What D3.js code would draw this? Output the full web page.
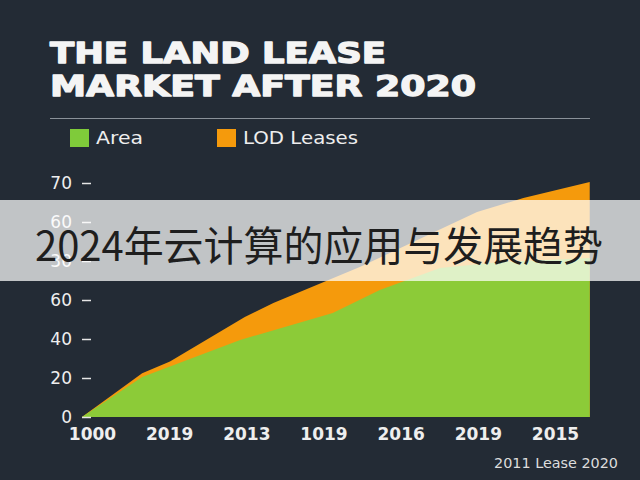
<!DOCTYPE html>
<html>
<head>
<meta charset="utf-8">
<script src="https://cdn.jsdelivr.net/npm/d3@7"></script>
<style>
  html, body { margin: 0; padding: 0; background: #232b35; }
  svg { display: block; }
</style>
</head>
<body>
<svg id="chart"></svg>
<script>
// x labels sit at index 0..6, area samples use fractional index positions
const xLabels = ['1000', '2019', '2013', '1019', '2016', '2019', '2015']
const yTickValues = [0, 20, 40, 60, 80, 100, 120]
const yTickLabels = ['0', '20', '40', '60', '30', '60', '70']

const leaseX = [-0.13, 0.65, 1.01, 1.98, 2.35, 3.47, 4.99, 5.59, 6.45]
const leaseY = [0, 22.5, 28.5, 51.3, 58.5, 76.9, 105.1, 112.3, 120.5]

const areaX = [-0.13, 0.65, 1.92, 3.12, 3.73, 4.51, 5.29, 6.45]
const areaY = [0, 20.5, 39.5, 53.3, 65.1, 76.4, 79.5, 81.5]

const width = 640
const height = 480

const svg = d3.select('#chart')
  .attr('width', width)
  .attr('height', height)

svg.append('rect')
  .attr('width', width)
  .attr('height', height)
  .attr('fill', '#232b35')

// title
const title = svg.append('g')
  .attr('font-family', 'DejaVu Sans')
  .attr('font-weight', 'bold')
  .attr('fill', '#f4f4f4')
  .attr('stroke', '#f4f4f4')
  .attr('stroke-width', 1.3)
  .attr('stroke-linejoin', 'round')
  .attr('font-size', 29)

title.append('text')
  .attr('x', 50).attr('y', 63)
  .attr('textLength', 336)
  .attr('lengthAdjust', 'spacingAndGlyphs')
  .text('THE LAND LEASE')

title.append('text')
  .attr('x', 50).attr('y', 96)
  .attr('textLength', 426)
  .attr('lengthAdjust', 'spacingAndGlyphs')
  .text('MARKET AFTER 2020')

svg.append('line')
  .attr('x1', 50).attr('x2', 590)
  .attr('y1', 118.5).attr('y2', 118.5)
  .attr('stroke', '#8a9199')
  .attr('stroke-width', 1.2)

// legend
const legend = [
  { name: 'Area', color: '#7fcb3a', x: 70, w: 47 },
  { name: 'LOD Leases', color: '#f59a0c', x: 217, w: 115 }
]

const lg = svg.selectAll('.legend')
  .data(legend)
  .join('g')
  .attr('class', 'legend')
  .attr('transform', (d) => `translate(${d.x}, 129)`)

lg.append('rect')
  .attr('width', 19)
  .attr('height', 18)
  .attr('fill', (d) => d.color)

lg.append('text')
  .attr('x', 26)
  .attr('y', 15)
  .attr('font-family', 'DejaVu Sans')
  .attr('font-size', 17)
  .attr('fill', '#eeeeee')
  .attr('textLength', (d) => d.w)
  .attr('lengthAdjust', 'spacingAndGlyphs')
  .text((d) => d.name)

// scales
const x = d3.scaleLinear().domain([0, 6]).range([92, 555])
const y = d3.scaleLinear().domain([0, 120]).range([417, 183])

const leaseData = leaseX.map((v, i) => ({ x: v, y: leaseY[i] }))
const areaData = areaX.map((v, i) => ({ x: v, y: areaY[i] }))

const area = d3.area()
  .x((d) => x(d.x))
  .y0(y(0))
  .y1((d) => y(d.y))

svg.append('path')
  .datum(leaseData)
  .attr('d', area)
  .attr('fill', '#f59a0c')

svg.append('path')
  .datum(areaData)
  .attr('d', area)
  .attr('fill', '#8ccb38')

// axes
const yAxis = svg.append('g')
  .attr('transform', 'translate(91, 0)')
  .call(d3.axisLeft(y)
    .tickValues(yTickValues)
    .tickFormat((d, i) => yTickLabels[i])
    .tickSize(9)
    .tickPadding(10))

yAxis.select('.domain').remove()
yAxis.selectAll('line').attr('stroke', '#e6e6e6').attr('stroke-width', 1.5)
yAxis.selectAll('text')
  .attr('font-family', 'DejaVu Sans')
  .attr('font-size', 17)
  .attr('fill', '#eeeeee')

const xAxis = svg.append('g')
  .attr('transform', 'translate(0, 424)')
  .call(d3.axisBottom(x)
    .tickValues(d3.range(xLabels.length))
    .tickFormat((d) => xLabels[d])
    .tickSize(0)
    .tickPadding(4))

xAxis.select('.domain').remove()
xAxis.selectAll('text')
  .attr('font-family', 'DejaVu Sans')
  .attr('font-size', 17)
  .attr('font-weight', 'bold')
  .attr('fill', '#eeeeee')

svg.append('text')
  .attr('x', 618)
  .attr('y', 468)
  .attr('text-anchor', 'end')
  .attr('font-family', 'DejaVu Sans')
  .attr('font-size', 14)
  .attr('fill', '#dddddd')
  .attr('textLength', 124)
  .attr('lengthAdjust', 'spacingAndGlyphs')
  .text('2011 Lease 2020')

// overlay band with caption
svg.append('rect')
  .attr('x', 0).attr('y', 200)
  .attr('width', width).attr('height', 81)
  .attr('fill', '#ffffff')
  .attr('opacity', 0.72)

svg.append('text')
  .attr('x', 35)
  .attr('y', 261)
  .attr('font-family', 'Noto Sans CJK SC')
  .attr('font-size', 41)
  .attr('fill', '#1e1e1e')
  .attr('textLength', 568)
  .attr('lengthAdjust', 'spacingAndGlyphs')
  .text('2024年云计算的应用与发展趋势')
</script>
</body>
</html>
